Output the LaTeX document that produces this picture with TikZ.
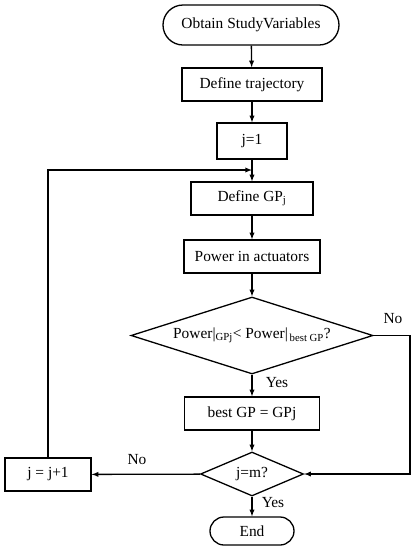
\documentclass[tikz,border=0pt]{standalone}
\usepackage{fontspec}
\setmainfont{Liberation Serif}
\usetikzlibrary{shapes.geometric}

\tikzset{
    stepbox/.style={draw, rectangle, inner sep=2pt},
    term/.style={draw, rectangle, rounded corners=#1, inner sep=2pt},
    decision/.style={draw, diamond, inner sep=0pt, aspect=#1},
    lbl/.style={inner sep=0pt}
}

\begin{document}
\begin{tikzpicture}[x=1pt, y=-1pt, line width=1.3pt,
    font=\fontsize{15.4}{18}\selectfont]
    \useasboundingbox (0,0) rectangle (418,550);

    % main column
    \node[term=20pt, minimum width=176pt, minimum height=40pt] (start) at (251,25) {Obtain StudyVariables};
    \node[stepbox, minimum width=140pt, minimum height=33pt] (traj) at (252,84.5) {Define trajectory};
    \node[stepbox, minimum width=70pt, minimum height=36pt] (jone) at (252,141) {j=1};
    \node[stepbox, minimum width=122pt, minimum height=33pt] (defgp) at (252,198.5) {Define GP\textsubscript{j}};
    \node[stepbox, minimum width=136pt, minimum height=33pt] (power) at (252,256.5) {Power in actuators};
    \node[decision=3.14, minimum width=242pt, minimum height=77pt] (cond) at (252,335.5)
        {Power|\textsubscript{GPj}< Power|\textsubscript{\,best GP}?};
    \node[stepbox, minimum width=135pt, minimum height=33pt] (best) at (252,413.5) {best GP = GPj};
    \node[decision=2.34, minimum width=103pt, minimum height=44pt] (jm) at (252,474) {j=m?};
    \node[term=14pt, minimum width=84pt, minimum height=28pt] (end) at (252,531) {End};

    % loop box
    \node[stepbox, minimum width=86pt, minimum height=33pt] (inc) at (48,474.5) {j = j+1};

    \coordinate (merge) at (252,170);
    \coordinate (rside) at (410,335.5);

    \draw[-latex] (start) -- (traj);
    \draw[-latex] (traj) -- (jone);
    \draw[-latex] (jone) -- (defgp);
    \draw[-latex] (defgp) -- (power);
    \draw[-latex] (power) -- (cond);
    \draw[-latex] (cond) -- (best);
    \draw[-latex] (best) -- (jm);
    \draw[-latex] (jm) -- (end);
    \draw[-latex] (jm) -- (inc);
    \draw[-latex] (cond.east) -- (rside) |- (jm.east);
    \draw[-latex] (inc.north) |- (merge);

    \node[lbl] (yesa) at (277,383) {Yes};
    \node[lbl] (noa) at (393,319) {No};
    \node[lbl] (nob) at (137,460) {No};
    \node[lbl] (yesb) at (273,503) {Yes};
\end{tikzpicture}
\end{document}
